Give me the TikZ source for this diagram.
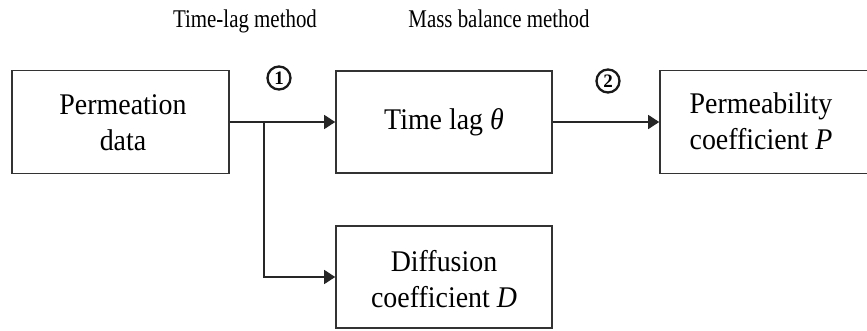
\documentclass[tikz,border=0pt]{standalone}
\usepackage{fontspec}
\setmainfont{Liberation Serif}
\newfontfamily\boxfont[FakeStretch=0.93]{Liberation Serif}
\newfontfamily\headfont[FakeStretch=0.82]{Liberation Serif}
\newfontfamily\numfont{Liberation Serif}
\usetikzlibrary{arrows.meta}
\begin{document}
\begin{tikzpicture}[x=1pt,y=-1pt,
  blockbox/.style={draw=black!80, line width=1.6pt, inner sep=0pt},
  boxtext/.style={align=center, inner sep=0pt,
    font=\boxfont\fontsize{30}{36}\selectfont},
  headtext/.style={anchor=base, inner sep=0pt,
    font=\headfont\fontsize{25.5}{30}\selectfont},
  stepnum/.style={circle, draw=black!90, line width=2.3pt, inner sep=0pt,
    minimum size=23pt, font=\numfont\bfseries\fontsize{19}{19}\selectfont},
  flow/.style={draw=black!85, line width=1.4pt,
    -{Triangle[length=11pt,width=14pt]}},
  link/.style={draw=black!85, line width=1.4pt}]
\useasboundingbox (0,0) rectangle (867,330);

% method headings
\node[headtext] (h1) at (245,27) {Time-lag method};
\node[headtext] (h2) at (499,27) {Mass balance method};

% blocks
\node[blockbox, minimum width=217pt, minimum height=103pt] (pd) at (120.5,122) {};
\node[boxtext] (pdt) at (123,123) {Permeation\\data};

\node[blockbox, minimum width=216pt, minimum height=102pt, boxtext] (tl) at (444,122) {Time lag \textit{θ}};

\node[blockbox, minimum width=220pt, minimum height=103pt] (pc) at (770,122) {};
\node[boxtext] (pct) at (761,121) {Permeability\\coefficient \textit{P}};

\node[blockbox, minimum width=216pt, minimum height=102pt] (dc) at (444,277) {};
\node[boxtext] (dct) at (444,279) {Diffusion\\coefficient \textit{D}};

% step markers
\node[stepnum] (s1) at (279,78) {1};
\node[stepnum] (s2) at (608,81) {2};

% connectors
\coordinate (br) at (264,122);
\draw[link] (pd.east) -- (br);
\draw[flow] (br) -- (tl.west);
\draw[flow] (br) |- (dc.west);
\draw[flow] (tl.east) -- (pc.west);
\end{tikzpicture}
\end{document}
